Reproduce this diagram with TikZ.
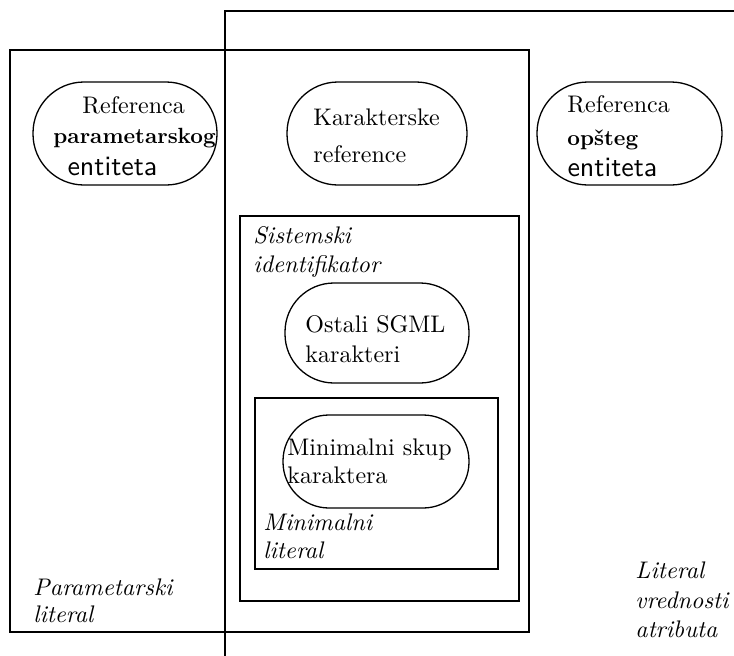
\documentclass[tikz,border=0pt]{standalone}
\usetikzlibrary{positioning}
\begin{document}
\begin{tikzpicture}[x=1pt,y=-1pt,
  frame/.style={draw,line width=1.6pt,inner sep=0pt},
  stadium/.style={draw,line width=1.3pt,inner sep=0pt,rounded corners=#1},
  rm/.style={anchor=base west,inner sep=0pt,scale=2.4,font=\normalsize},
  bf/.style={anchor=base west,inner sep=0pt,scale=2.2,font=\normalsize\bfseries},
  sf/.style={anchor=base west,inner sep=0pt,scale=2.8,font=\normalsize\sffamily},
  itl/.style={anchor=base west,inner sep=0pt,scale=2.4,font=\normalsize\itshape}]
\useasboundingbox (0,0) rectangle (734,656);

% outer open frame: literal of an attribute value
\coordinate (lvaBottom) at (225,656);
\coordinate (lvaCorner) at (225,11);
\coordinate (lvaRight) at (734,11);
\draw[line width=1.6pt] (lvaBottom) -- (lvaCorner) -- (lvaRight);

% parameter literal
\node[frame,minimum width=519pt,minimum height=582pt] (paramlit) at (269.5,341) {};
% system identifier
\node[frame,minimum width=279pt,minimum height=385pt] (sysid) at (379.5,408.5) {};
% minimal literal
\node[frame,minimum width=243pt,minimum height=171pt] (minlit) at (376.5,483.5) {};

% rounded boxes
\node[stadium=51pt,minimum width=184pt,minimum height=103pt] (refpar) at (125,133.5) {};
\node[stadium=51pt,minimum width=180pt,minimum height=103pt] (karref) at (377,133.5) {};
\node[stadium=51pt,minimum width=185pt,minimum height=103pt] (refop) at (629.5,133.5) {};
\node[stadium=49pt,minimum width=184pt,minimum height=100pt] (ostali) at (377,333) {};
\node[stadium=46pt,minimum width=186pt,minimum height=93pt] (minskup) at (376,461.5) {};

% texts in the rounded boxes
\node[rm] (refparA) at (82,113) {Referenca};
\node[bf] (refparB) at (53,143) {parametarskog};
\node[sf] (refparC) at (67,175) {entiteta};

\node[rm] (karrefA) at (313,125) {Karakterske};
\node[rm] (karrefB) at (313,162) {reference};

\node[rm] (refopA) at (567,112) {Referenca};
\node[bf] (refopB) at (567,145) {op\v{s}teg};
\node[sf] (refopC) at (567,176) {entiteta};

\node[rm] (ostaliA) at (305,332) {Ostali SGML};
\node[rm] (ostaliB) at (305,362) {karakteri};

\node[rm] (minskupA) at (287,455) {Minimalni skup};
\node[rm] (minskupB) at (287,483) {karaktera};

% region captions
\node[itl] (sysidA) at (253,243) {Sistemski};
\node[itl] (sysidB) at (253,272) {identifikator};

\node[itl] (minlitA) at (263,530) {Minimalni};
\node[itl] (minlitB) at (263,558) {literal};

\node[itl] (paramlitA) at (33,595) {Parametarski};
\node[itl] (paramlitB) at (33,622) {literal};

\node[itl] (lvaA) at (635,578) {Literal};
\node[itl] (lvaB) at (635,608) {vrednosti};
\node[itl] (lvaC) at (635,637) {atributa};
\end{tikzpicture}
\end{document}
